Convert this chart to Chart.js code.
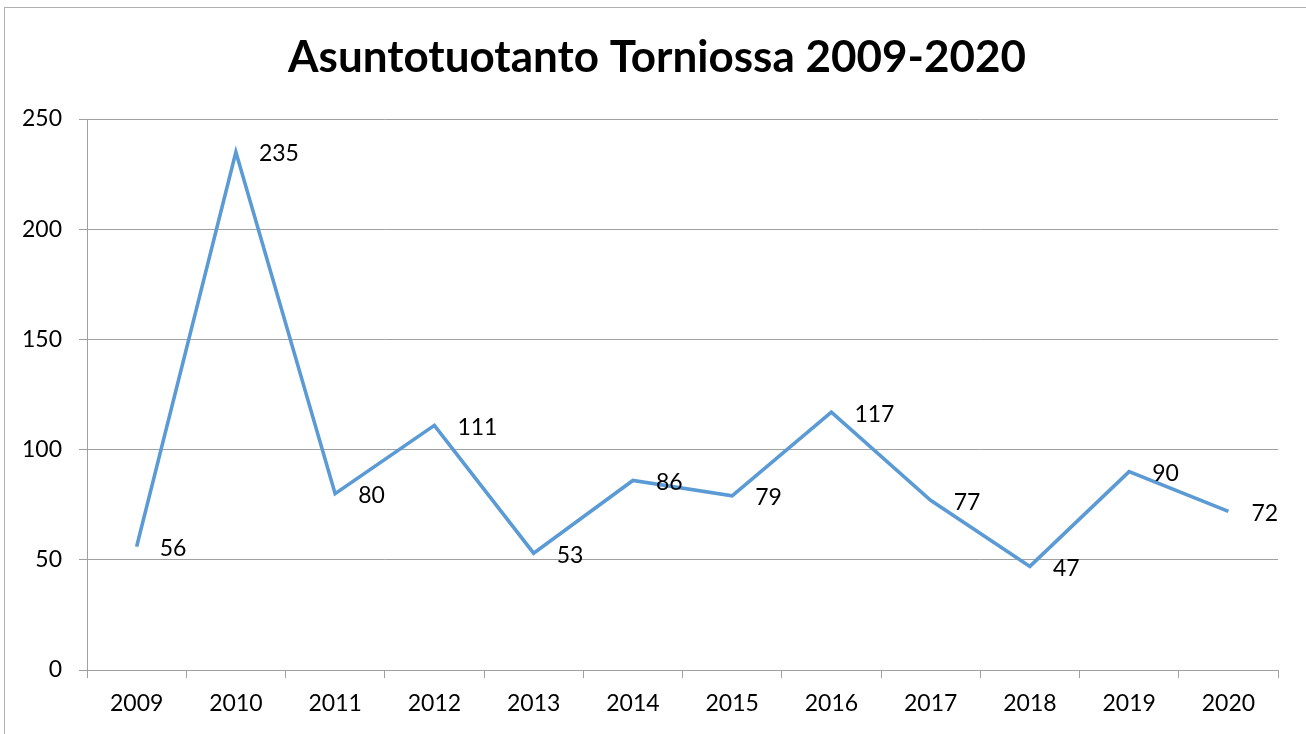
<!DOCTYPE html>
<html>
<head>
<meta charset="utf-8">
<script src="https://cdn.jsdelivr.net/npm/chart.js@4"></script>
<style>
html,body{margin:0;padding:0;background:#fff;overflow:hidden;}
#wrap{position:relative;width:1306px;height:734px;}
</style>
</head>
<body>
<div id="wrap"><canvas id="c" width="1306" height="734"></canvas></div>
<script>
const chartTitle = "Asuntotuotanto Torniossa 2009-2020";
const years = ["2009","2010","2011","2012","2013","2014","2015","2016","2017","2018","2019","2020"];
const housing = [56, 235, 80, 111, 53, 86, 79, 117, 77, 47, 90, 72];
const yTicks = [0, 50, 100, 150, 200, 250];

const FONT = "Lato, 'Open Sans', sans-serif";

const frame = {
  id: 'frame',
  afterDraw(chart) {
    const ctx = chart.ctx;
    ctx.save();
    ctx.strokeStyle = '#b0b0b0';
    ctx.lineWidth = 1;
    ctx.strokeRect(4.5, 7.5, 1400, 800);
    ctx.restore();
  }
};

const titleText = {
  id: 'titleText',
  afterDraw(chart) {
    const ctx = chart.ctx;
    ctx.save();
    ctx.font = "bold 44px " + FONT;
    ctx.fillStyle = '#000';
    ctx.textAlign = 'center';
    ctx.textBaseline = 'middle';
    ctx.fillText(chartTitle, 657, 58);
    ctx.restore();
  }
};

const valueLabels = {
  id: 'valueLabels',
  afterDatasetsDraw(chart) {
    const ctx = chart.ctx;
    const meta = chart.getDatasetMeta(0);
    const data = chart.data.datasets[0].data;
    ctx.save();
    ctx.font = "23px " + FONT;
    ctx.fillStyle = '#000';
    ctx.textAlign = 'left';
    ctx.textBaseline = 'middle';
    meta.data.forEach((pt, i) => {
      ctx.fillText(String(data[i]), pt.x + 23, pt.y + 2);
    });
    ctx.restore();
  }
};

new Chart(document.getElementById('c'), {
  type: 'line',
  data: {
    labels: years,
    datasets: [{
      data: housing,
      borderColor: '#5B9BD5',
      borderWidth: 3.6,
      pointRadius: 0,
      pointHoverRadius: 0,
      tension: 0,
      fill: false
    }]
  },
  options: {
    responsive: false,
    animation: false,
    devicePixelRatio: 1,
    layout: { padding: { top: 119, left: 0, right: 28, bottom: 0 } },
    plugins: {
      legend: { display: false },
      tooltip: { enabled: false },
      title: { display: false }
    },
    scales: {
      x: {
        type: 'category',
        offset: true,
        grid: {
          offset: true,
          drawOnChartArea: false,
          drawTicks: true,
          tickLength: 8,
          color: '#a0a0a0',
          lineWidth: 1
        },
        border: { display: true, color: '#a0a0a0', width: 1 },
        ticks: {
          color: '#000',
          font: { family: FONT, size: 23 },
          padding: 12,
          maxRotation: 0,
          autoSkip: false
        },
        afterFit(scale) { scale.height = 64; }
      },
      y: {
        min: 0,
        max: 250,
        afterBuildTicks(scale) { scale.ticks = yTicks.map(v => ({ value: v })); },
        grid: {
          color: '#a0a0a0',
          lineWidth: 1,
          drawTicks: true,
          tickLength: 8
        },
        border: { display: true, color: '#a0a0a0', width: 1 },
        ticks: {
          color: '#000',
          font: { family: FONT, size: 23 },
          padding: 17
        },
        afterFit(scale) { scale.width = 87; }
      }
    }
  },
  plugins: [frame, titleText, valueLabels]
});
</script>
</body>
</html>
